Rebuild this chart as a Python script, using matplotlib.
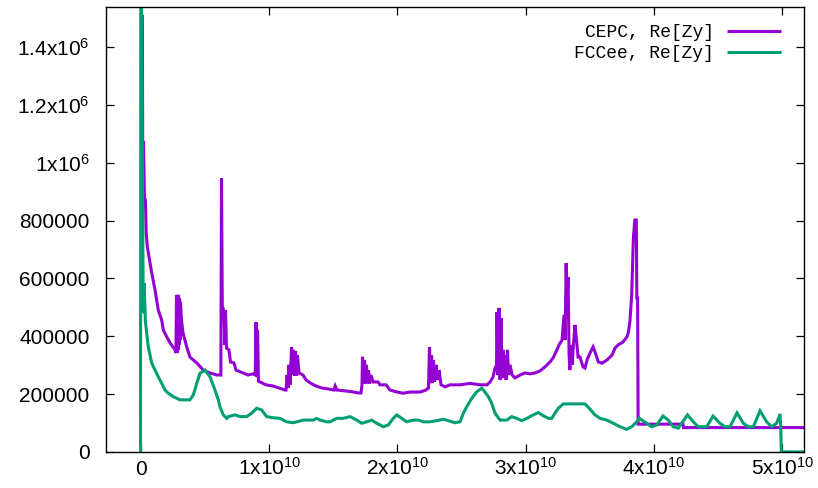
import matplotlib
matplotlib.use("Agg")
import matplotlib.pyplot as plt
from matplotlib.font_manager import FontProperties
from matplotlib.ticker import FixedLocator, FixedFormatter

plt.rcParams["mathtext.fontset"] = "custom"
plt.rcParams["mathtext.rm"] = "Liberation Sans"
plt.rcParams["mathtext.it"] = "Liberation Sans"
plt.rcParams["mathtext.bf"] = "Liberation Sans"
plt.rcParams["font.family"] = ["Liberation Sans", "DejaVu Sans"]

# Frequency in GHz, real part of the vertical impedance in Ohm
cepc_f_ghz = [
    0.12, 0.16, 0.21, 0.28, 0.36, 0.42, 0.51, 0.85, 1.11, 1.36, 1.63, 1.75, 2.02, 2.28, 2.67,
    2.74, 2.78, 2.82, 2.86, 2.90, 2.94, 2.98, 3.02, 3.06, 3.09, 3.17, 3.29, 3.58, 3.83, 4.36,
    4.87, 5.39, 5.92, 6.24, 6.29, 6.35, 6.41, 6.48, 6.56, 6.60, 6.68, 6.87, 6.99, 7.26, 7.42,
    7.97, 8.36, 8.75, 8.92, 8.98, 9.04, 9.10, 9.17, 9.29, 9.76, 10.30, 10.77, 11.24, 11.32,
    11.40, 11.47, 11.55, 11.63, 11.75, 11.82, 11.90, 11.98, 12.06, 12.14, 12.21, 12.33, 12.64,
    12.88, 13.19, 13.65, 14.12, 14.59, 15.06, 15.15, 15.29, 15.92, 16.46, 16.93, 17.16, 17.24,
    17.28, 17.36, 17.44, 17.51, 17.59, 17.67, 17.75, 17.83, 17.94, 18.10, 18.49, 18.64, 19.11,
    19.42, 19.97, 20.44, 20.98, 21.76, 22.23, 22.42, 22.50, 22.58, 22.66, 22.73, 22.81, 22.89,
    23.01, 23.13, 23.24, 23.40, 23.71, 24.10, 24.88, 25.66, 26.44, 26.98, 27.22, 27.45, 27.61,
    27.72, 27.76, 27.84, 27.92, 28.00, 28.08, 28.15, 28.23, 28.31, 28.39, 28.47, 28.58, 28.66,
    28.78, 28.94, 29.17, 29.56, 29.95, 30.34, 30.72, 31.11, 31.50, 31.89, 32.13, 32.36, 32.60,
    32.83, 32.99, 33.07, 33.15, 33.22, 33.30, 33.38, 33.44, 33.53, 33.61, 33.73, 33.84, 33.96,
    34.08, 34.23, 34.47, 34.62, 34.78, 35.01, 35.25, 35.40, 35.66, 35.95, 36.34, 36.73, 36.96,
    37.20, 37.58, 37.89, 38.01, 38.13, 38.26, 38.39, 38.50, 38.62, 38.66, 38.72, 38.76, 42.26,
    42.30, 52.00,
]
cepc_re_zy = [
    1512000, 880000, 1075000, 880000, 870000, 757000, 709000, 619000, 560000, 491000, 456000,
    422000, 398000, 377000, 353000,
    342000, 543000, 342000, 543000, 352000, 543000, 370000, 532000, 387000, 519000, 456000,
    411000, 363000, 328000, 308000,
    283000, 273000, 266000, 266000, 947000, 501000, 498000, 474000, 370000, 491000, 359000,
    353000, 311000, 308000, 283000,
    273000, 266000, 270000, 266000, 449000, 263000, 422000, 245000, 242000, 232000, 228000,
    221000, 214000, 214000,
    266000, 221000, 301000, 232000, 363000, 266000, 353000, 263000, 349000, 263000, 335000,
    273000, 266000,
    249000, 239000, 228000, 221000, 218000, 214000, 228000, 214000, 211000, 208000, 204000,
    204000, 232000,
    329000, 237000, 318000, 237000, 301000, 237000, 283000, 237000, 266000, 242000, 242000,
    232000, 232000,
    214000, 207000, 203000, 207000, 207000, 214000, 221000, 363000, 238000, 335000, 238000,
    318000, 242000,
    301000, 249000, 283000, 232000, 225000, 232000, 232000, 237000, 232000, 232000, 242000,
    259000, 290000,
    287000, 484000, 266000, 498000, 249000, 463000, 256000, 353000, 256000, 335000, 249000,
    353000, 266000,
    301000, 266000, 256000, 266000, 273000, 270000, 273000, 280000, 294000, 311000, 325000,
    346000, 370000,
    387000, 474000, 387000, 653000, 525000, 605000, 335000, 283000, 370000, 301000, 377000,
    439000, 387000,
    328000, 328000, 294000, 290000, 318000, 342000, 363000, 346000, 311000, 307000, 318000,
    335000, 359000,
    370000, 380000, 398000, 415000, 456000, 543000, 740000, 802000, 802000, 532000, 532000,
    96000, 96000,
    84000, 84000,
]

fcc_f_ghz = [
    -0.02, 0.00, 0.15, 0.19, 0.27, 0.35, 0.46, 0.58, 0.85, 1.11, 1.36, 1.63, 1.89, 2.14, 2.53,
    3.06, 3.83, 4.09, 4.36, 4.61, 5.00, 5.39, 5.78, 6.04, 6.17, 6.43, 6.70, 6.82, 7.34, 7.73,
    8.25, 8.64, 9.03, 9.42, 9.81, 10.33, 10.85, 11.37, 11.89, 12.15, 12.67, 13.45, 13.71,
    13.97, 14.49, 14.75, 15.27, 15.78, 16.31, 16.83, 17.22, 17.61, 18.00, 18.39, 18.90, 19.29,
    19.68, 19.95, 20.34, 20.72, 21.24, 21.63, 22.02, 22.54, 23.06, 23.58, 23.97, 24.49, 24.88,
    25.14, 25.40, 25.79, 26.18, 26.57, 26.70, 27.09, 27.35, 27.61, 28.00, 28.52, 28.91, 29.30,
    29.69, 30.08, 30.59, 30.98, 31.37, 31.76, 32.03, 32.28, 32.54, 32.93, 34.62, 35.01, 35.40,
    35.79, 36.31, 36.83, 37.35, 37.87, 38.26, 38.65, 38.83, 39.43, 39.82, 40.21, 40.70, 41.11,
    41.50, 41.89, 42.61, 43.06, 43.45, 44.11, 44.60, 45.14, 45.53, 45.92, 46.47, 46.96, 47.35,
    47.74, 48.26, 48.78, 49.17, 49.56, 49.82, 49.88, 49.92, 52.00,
]
fcc_re_zy = [
    0, 2000000, 826000, 480000, 583000, 456000, 410000, 364000, 307000, 283000, 260000, 237000,
    214000, 203000, 191000,
    180000, 180000, 197000, 237000, 272000, 283000, 260000, 214000, 180000, 156000, 128000,
    116000, 122000, 128000, 122000,
    122000, 134000, 151000, 145000, 122000, 118000, 116000, 104000, 101000, 104000, 110000,
    110000, 116000,
    110000, 104000, 104000, 116000, 116000, 122000, 110000, 99000, 104000, 110000, 99000,
    87000, 93000,
    116000, 128000, 116000, 104000, 110000, 110000, 104000, 104000, 108000, 113000, 108000,
    101000, 104000,
    134000, 156000, 185000, 208000, 220000, 214000, 191000, 168000, 134000, 110000, 110000,
    122000, 116000,
    108000, 116000, 128000, 136000, 125000, 116000, 116000, 134000, 151000, 166000, 166000,
    148000, 128000,
    116000, 110000, 99000, 87000, 78000, 87000, 104000, 117000, 99000, 87000, 93000, 124000,
    110000,
    87000, 82000, 128000, 104000, 87000, 87000, 124000, 99000, 87000, 87000, 135000, 99000,
    87000,
    87000, 142000, 104000, 87000, 99000, 131000, 83000, 0, 0,
]

x_ticks = [0, 1e10, 2e10, 3e10, 4e10, 5e10]
x_tick_labels = ["0", r"1x10$^{10}$", r"2x10$^{10}$", r"3x10$^{10}$", r"4x10$^{10}$", r"5x10$^{10}$"]
y_ticks = [0, 200000, 400000, 600000, 800000, 1000000, 1200000, 1400000]
y_tick_labels = ["0", "200000", "400000", "600000", "800000",
                 r"1x10$^{6}$", r"1.2x10$^{6}$", r"1.4x10$^{6}$"]

series_labels = ["CEPC, Re[Zy]", "FCCee, Re[Zy]"]
series_colors = ["#9400d3", "#009e73"]

fig = plt.figure(figsize=(8.18, 4.88), dpi=100)
ax = fig.add_axes([0.129, 0.074, 0.8539, 0.911])

lines = []
for f, z, lab, col in [(cepc_f_ghz, cepc_re_zy, series_labels[0], series_colors[0]),
                       (fcc_f_ghz, fcc_re_zy, series_labels[1], series_colors[1])]:
    ln, = ax.plot([v * 1e9 for v in f], z, color=col, lw=2.2, label=lab,
                  solid_joinstyle="miter", solid_capstyle="butt")
    lines.append(ln)

ax.set_xlim(-2.75e9, 5.169e10)
ax.set_ylim(0, 1.538e6)

ax.xaxis.set_major_locator(FixedLocator(x_ticks))
ax.xaxis.set_major_formatter(FixedFormatter(x_tick_labels))
ax.yaxis.set_major_locator(FixedLocator(y_ticks))
ax.yaxis.set_major_formatter(FixedFormatter(y_tick_labels))

ax.tick_params(direction="in", top=True, right=True, length=6, width=0.9,
               labelsize=15, colors="black")
ax.tick_params(axis="y", pad=11.5)
ax.tick_params(axis="x", pad=16.5)
for t in ax.get_xticklabels():
    t.set_verticalalignment("baseline")

for s in ax.spines.values():
    s.set_linewidth(1.0)
    s.set_color("black")

ax.legend(handles=lines, loc="upper right", bbox_to_anchor=(0.967, 0.962),
          markerfirst=False, frameon=False, borderpad=0, borderaxespad=0,
          handlelength=3.0, handletextpad=0.7, labelspacing=0.2,
          prop=FontProperties(family="Liberation Mono", size=13))

fig.savefig("out.png", dpi=100)
